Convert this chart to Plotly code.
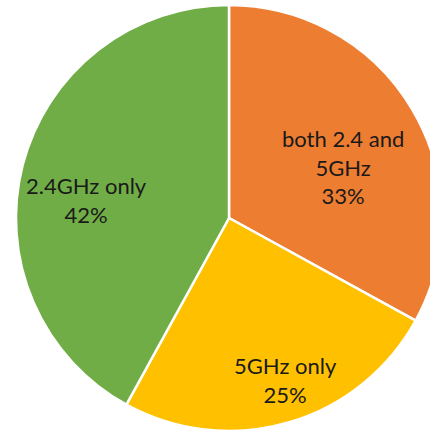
import math
import plotly.graph_objects as go

labels = ["both 2.4 and<br>5GHz", "5GHz only", "2.4GHz only"]
values = [33, 25, 42]
colors = ["#ED7D31", "#FFC000", "#70AD47"]

# layout: pixel geometry of the pie and label placement (radius fraction, angular nudge in deg)
W, H = 445, 432
CX, CY, R = 229, 218, 213
label_radius = [0.586, 0.805, 0.672]
label_nudge = [6.5, -2.9, -7.2]

fig = go.Figure(go.Pie(
    labels=labels,
    values=values,
    sort=False,
    direction="clockwise",
    rotation=0,
    marker=dict(colors=colors, line=dict(color="white", width=2.5)),
    textinfo="none",
    domain=dict(x=[(CX - R) / W, (CX + R) / W], y=[1 - (CY + R) / H, 1 - (CY - R) / H]),
    hoverinfo="label+percent",
))

total = sum(values)
cum = 0
for lab, v, f, nd in zip(labels, values, label_radius, label_nudge):
    mid = (cum + v / 2) / total * 360 + nd
    cum += v
    px = CX + f * R * math.sin(math.radians(mid))
    py = CY - f * R * math.cos(math.radians(mid))
    fig.add_annotation(
        x=px / W, y=1 - py / H, xref="paper", yref="paper",
        text=f"{lab}<br>{round(v / total * 100)}%",
        showarrow=False, align="center", xanchor="center", yanchor="middle",
        font=dict(family="Lato", size=22, color="#1a1a1a"),
    )

fig.update_layout(
    width=W, height=H,
    margin=dict(l=0, r=0, t=0, b=0),
    showlegend=False,
    paper_bgcolor="white",
    plot_bgcolor="white",
)
fig.write_html(
    "out.html",
    config={"displayModeBar": False},
    post_script="document.body.style.margin='0';document.body.style.overflow='hidden';document.documentElement.style.overflow='hidden';",
)
